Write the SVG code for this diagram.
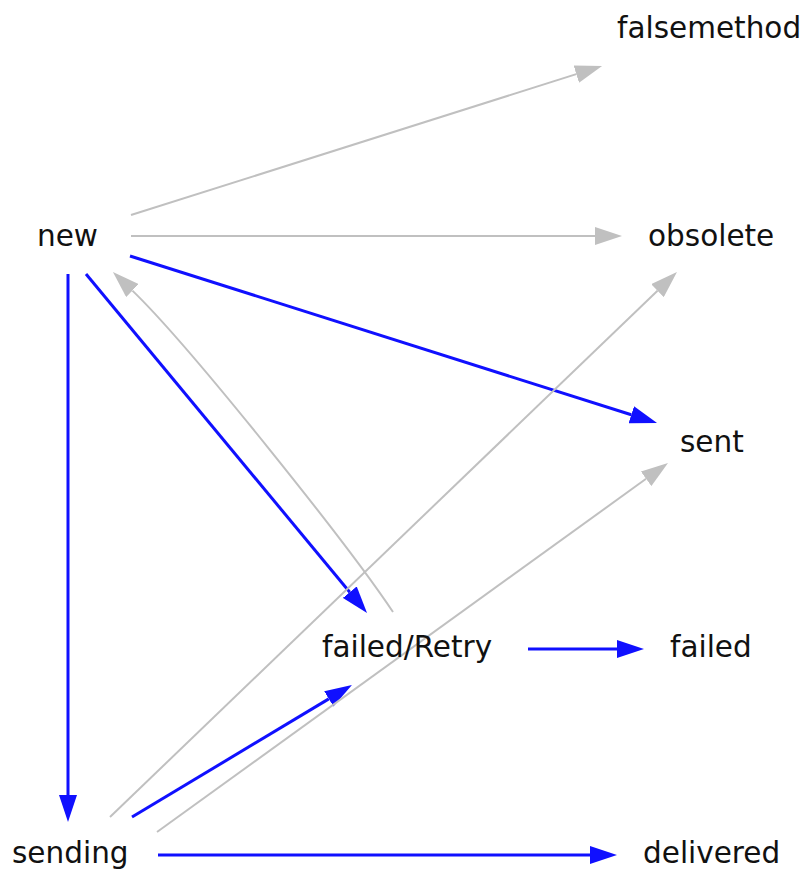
<svg xmlns="http://www.w3.org/2000/svg" width="811" height="875" viewBox="0 0 811 875">
<style>
  .lbl { font-family: "DejaVu Sans", sans-serif; font-size: 29.5px; fill: #111; }
  .g { fill: none; stroke: #c0c0c0; stroke-width: 2; }
  .b { fill: none; stroke: #1010ff; stroke-width: 3; }
  .gh { fill: #c0c0c0; }
  .bh { fill: #1010ff; }
</style>
<defs>
  <marker id="ag" markerUnits="userSpaceOnUse" markerWidth="27" markerHeight="18" refX="0" refY="9" orient="auto" viewBox="0 0 27 18">
    <path class="gh" d="M0,0 L27,9 L0,18 z"/>
  </marker>
  <marker id="ab" markerUnits="userSpaceOnUse" markerWidth="27" markerHeight="18" refX="0" refY="9" orient="auto" viewBox="0 0 27 18">
    <path class="bh" d="M0,0 L27,9 L0,18 z"/>
  </marker>
</defs>
<rect width="811" height="875" fill="#fff"/>
<g id="connectors">
  <path class="g" d="M131,215 L576.3,74.1" marker-end="url(#ag)"/>
  <path class="g" d="M131,236 L595,236" marker-end="url(#ag)"/>
  <path class="b" d="M130,256 L631.3,414.8" marker-end="url(#ab)"/>
  <path class="b" d="M86,274 L349.8,592.2" marker-end="url(#ab)"/>
  <path class="g" d="M393,612 C349,546 190,346 132.4,290.6" marker-end="url(#ag)"/>
  <path class="b" d="M68,274 L68,795" marker-end="url(#ab)"/>
  <path class="g" d="M110,817 L657.5,290.7" marker-end="url(#ag)"/>
  <path class="b" d="M132,817 L328.8,698.9" marker-end="url(#ab)"/>
  <path class="g" d="M157,832 L646.1,478.8" marker-end="url(#ag)"/>
  <path class="b" d="M528,649 L617,649" marker-end="url(#ab)"/>
  <path class="b" d="M158,855 L590,855" marker-end="url(#ab)"/>
</g>
<g id="node-falsemethod"><text class="lbl" x="617" y="38">falsemethod</text></g>
<g id="node-new"><text class="lbl" x="37" y="246">new</text></g>
<g id="node-obsolete"><text class="lbl" x="648" y="246">obsolete</text></g>
<g id="node-sent"><text class="lbl" x="680" y="452">sent</text></g>
<g id="node-failedRetry"><text class="lbl" x="322" y="657">failed/Retry</text></g>
<g id="node-failed"><text class="lbl" x="670" y="657">failed</text></g>
<g id="node-sending"><text class="lbl" x="12" y="863">sending</text></g>
<g id="node-delivered"><text class="lbl" x="643" y="863">delivered</text></g>
</svg>
